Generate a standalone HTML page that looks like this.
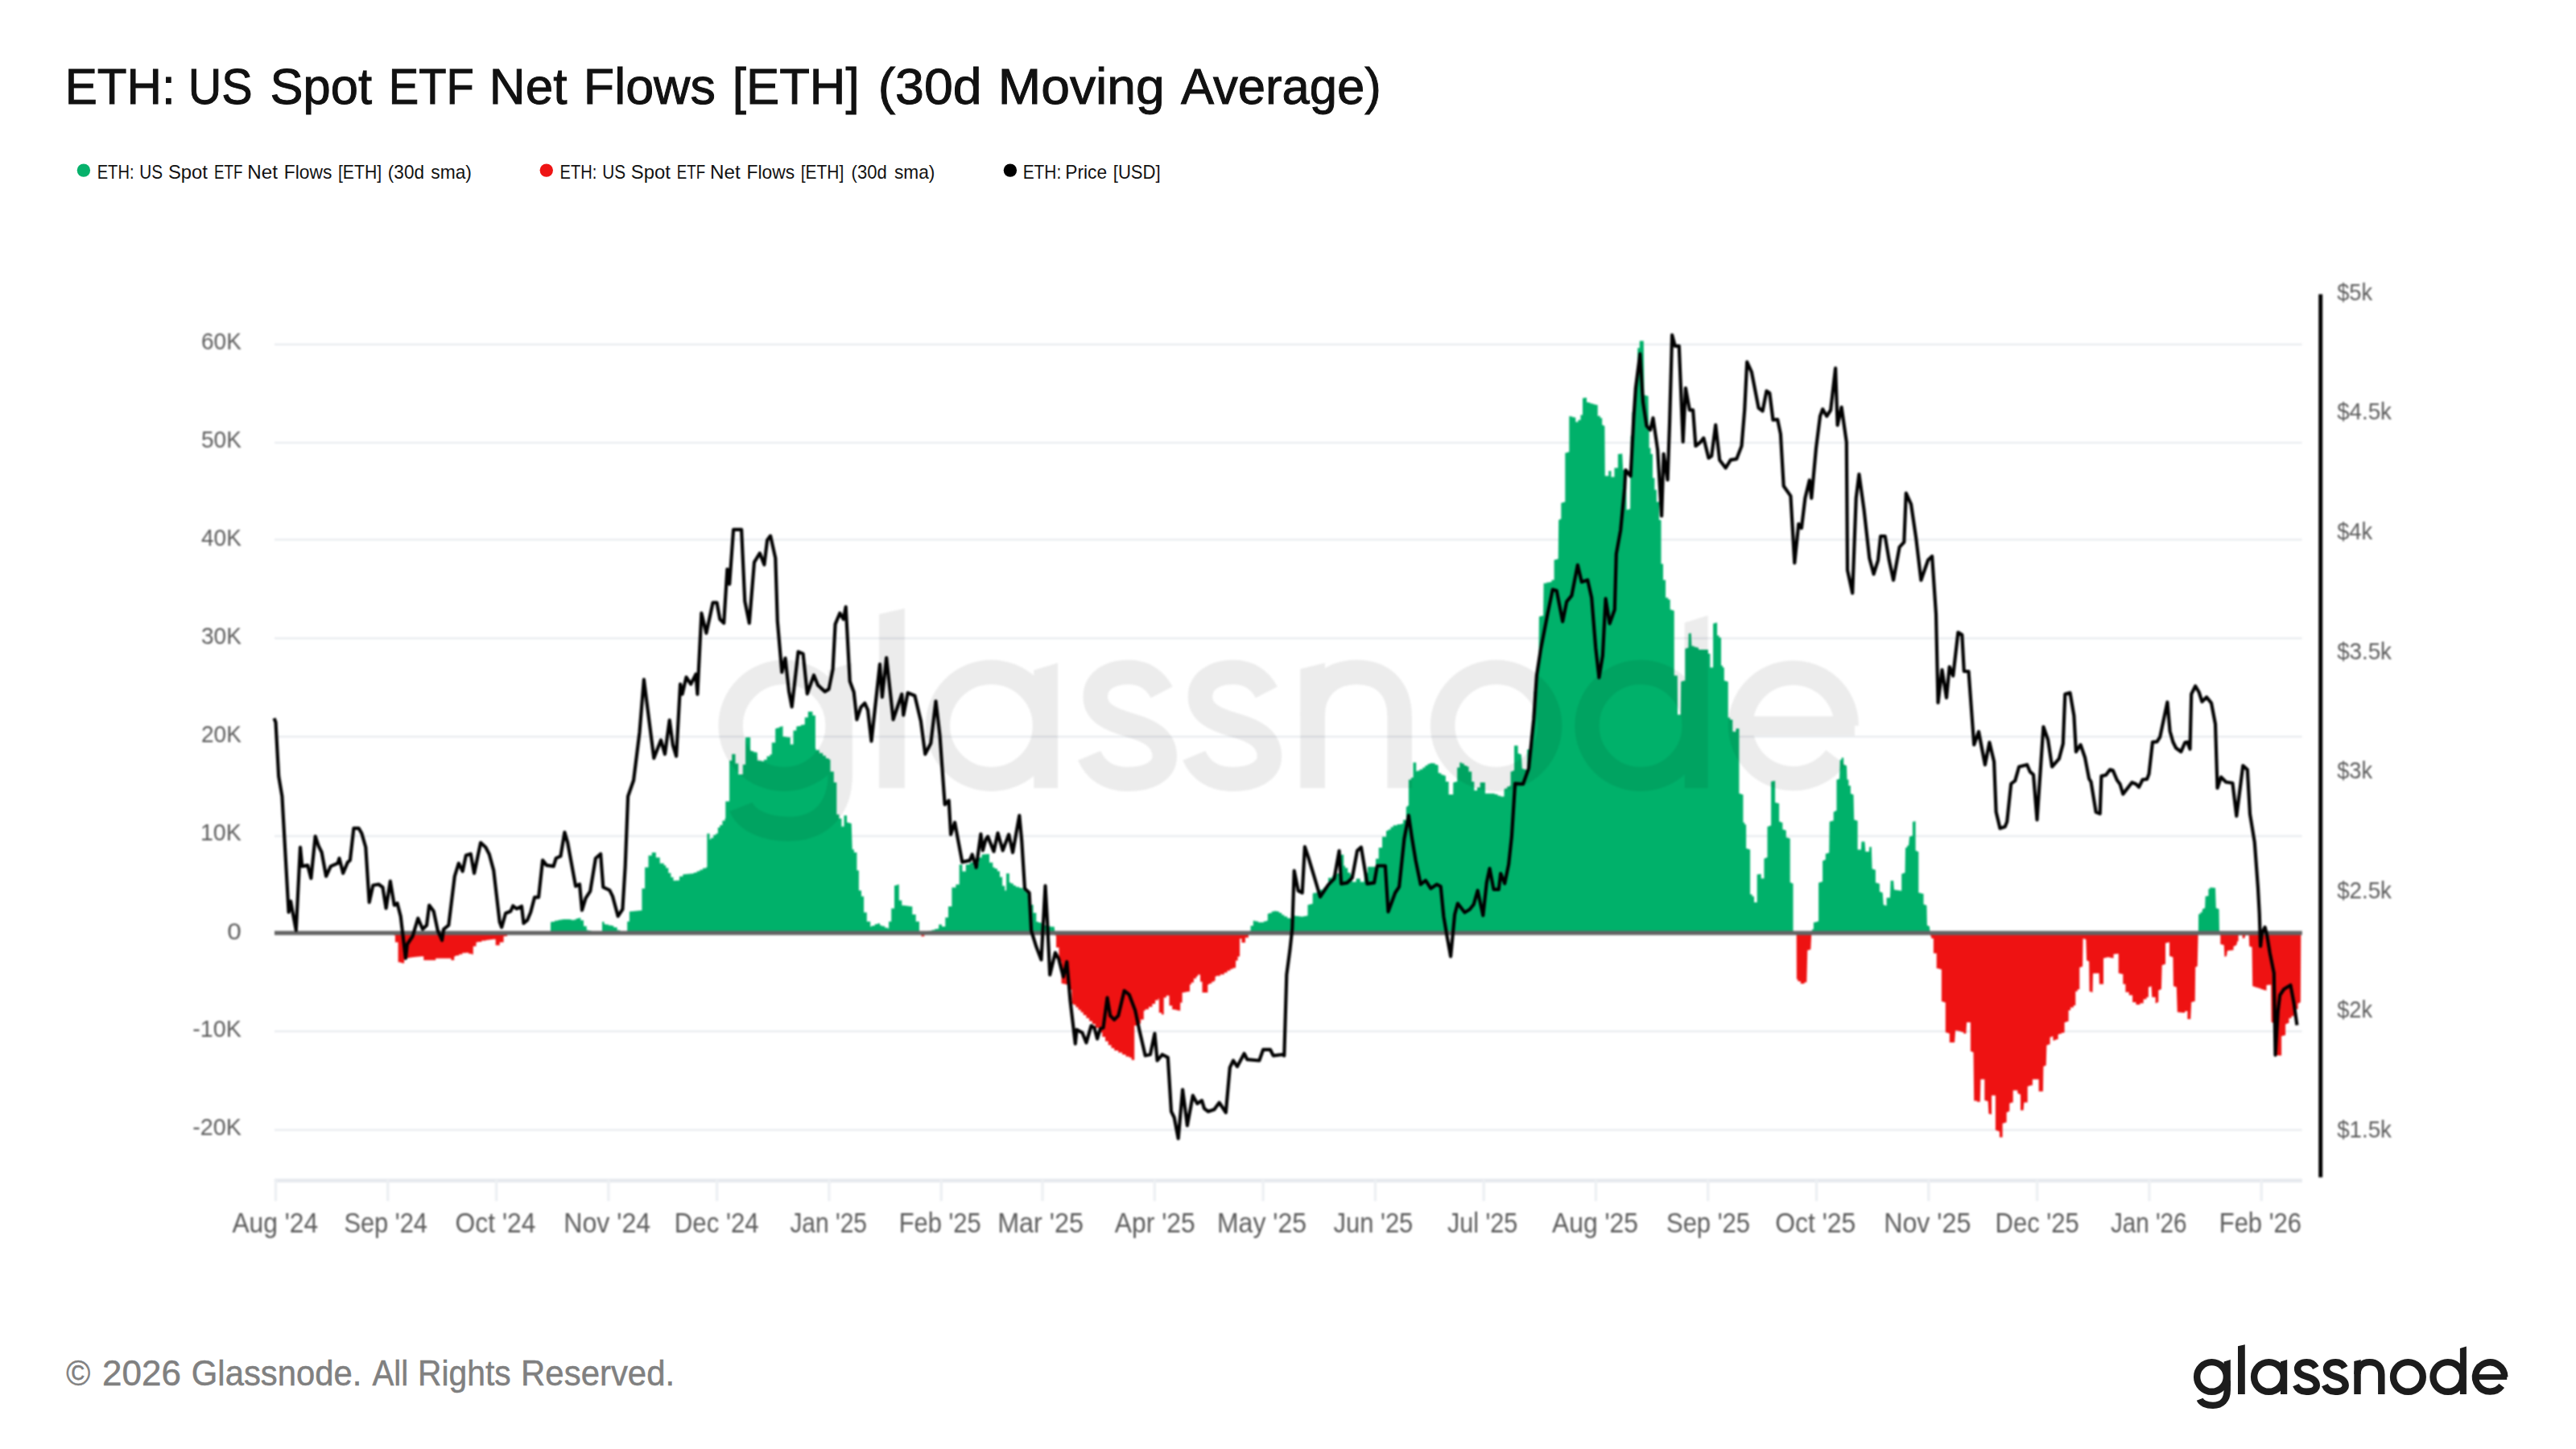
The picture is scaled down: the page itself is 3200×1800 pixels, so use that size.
<!DOCTYPE html><html><head><meta charset="utf-8"><title>ETH: US Spot ETF Net Flows</title>
<style>html,body{margin:0;padding:0;background:#fff}body{width:3200px;height:1800px;overflow:hidden;font-family:"Liberation Sans",sans-serif}svg{display:block}text{font-family:"Liberation Sans",sans-serif}</style></head><body>
<svg width="3200" height="1800" viewBox="0 0 3200 1800">
<rect width="3200" height="1800" fill="#fff"/>
<defs><filter id="b" color-interpolation-filters="sRGB" filterUnits="userSpaceOnUse" x="0" y="300" width="3200" height="1300"><feGaussianBlur stdDeviation="1.0"/></filter></defs>
<text x="80.76" y="129.2" font-size="63.5" fill="#111" stroke="#111" stroke-width="1" textLength="136.96" lengthAdjust="spacingAndGlyphs">ETH:</text>
<text x="233.76" y="129.2" font-size="63.5" fill="#111" stroke="#111" stroke-width="1" textLength="79.93" lengthAdjust="spacingAndGlyphs">US</text>
<text x="335.57" y="129.2" font-size="63.5" fill="#111" stroke="#111" stroke-width="1" textLength="126.42" lengthAdjust="spacingAndGlyphs">Spot</text>
<text x="482.75" y="129.2" font-size="63.5" fill="#111" stroke="#111" stroke-width="1" textLength="106.17" lengthAdjust="spacingAndGlyphs">ETF</text>
<text x="607.83" y="129.2" font-size="63.5" fill="#111" stroke="#111" stroke-width="1" textLength="96.55" lengthAdjust="spacingAndGlyphs">Net</text>
<text x="724.86" y="129.2" font-size="63.5" fill="#111" stroke="#111" stroke-width="1" textLength="163.99" lengthAdjust="spacingAndGlyphs">Flows</text>
<text x="909.84" y="129.2" font-size="63.5" fill="#111" stroke="#111" stroke-width="1" textLength="157.71" lengthAdjust="spacingAndGlyphs">[ETH]</text>
<text x="1090.63" y="129.2" font-size="63.5" fill="#111" stroke="#111" stroke-width="1" textLength="128.94" lengthAdjust="spacingAndGlyphs">(30d</text>
<text x="1239.85" y="129.2" font-size="63.5" fill="#111" stroke="#111" stroke-width="1" textLength="206.88" lengthAdjust="spacingAndGlyphs">Moving</text>
<text x="1467.01" y="129.2" font-size="63.5" fill="#111" stroke="#111" stroke-width="1" textLength="248.82" lengthAdjust="spacingAndGlyphs">Average)</text>
<text x="120.74" y="221.9" font-size="23.6" fill="#111" textLength="45.73" lengthAdjust="spacingAndGlyphs">ETH:</text>
<text x="173.36" y="221.9" font-size="23.6" fill="#111" textLength="28.88" lengthAdjust="spacingAndGlyphs">US</text>
<text x="208.98" y="221.9" font-size="23.6" fill="#111" textLength="49.02" lengthAdjust="spacingAndGlyphs">Spot</text>
<text x="266.05" y="221.9" font-size="23.6" fill="#111" textLength="35.34" lengthAdjust="spacingAndGlyphs">ETF</text>
<text x="307.33" y="221.9" font-size="23.6" fill="#111" textLength="37.65" lengthAdjust="spacingAndGlyphs">Net</text>
<text x="352.76" y="221.9" font-size="23.6" fill="#111" textLength="59.66" lengthAdjust="spacingAndGlyphs">Flows</text>
<text x="419.95" y="221.9" font-size="23.6" fill="#111" textLength="54.19" lengthAdjust="spacingAndGlyphs">[ETH]</text>
<text x="481.87" y="221.9" font-size="23.6" fill="#111" textLength="45.10" lengthAdjust="spacingAndGlyphs">(30d</text>
<text x="535.30" y="221.9" font-size="23.6" fill="#111" textLength="50.64" lengthAdjust="spacingAndGlyphs">sma)</text>
<text x="695.53" y="221.9" font-size="23.6" fill="#111" textLength="45.73" lengthAdjust="spacingAndGlyphs">ETH:</text>
<text x="748.15" y="221.9" font-size="23.6" fill="#111" textLength="28.88" lengthAdjust="spacingAndGlyphs">US</text>
<text x="783.78" y="221.9" font-size="23.6" fill="#111" textLength="49.02" lengthAdjust="spacingAndGlyphs">Spot</text>
<text x="840.75" y="221.9" font-size="23.6" fill="#111" textLength="35.34" lengthAdjust="spacingAndGlyphs">ETF</text>
<text x="882.13" y="221.9" font-size="23.6" fill="#111" textLength="37.65" lengthAdjust="spacingAndGlyphs">Net</text>
<text x="927.56" y="221.9" font-size="23.6" fill="#111" textLength="59.66" lengthAdjust="spacingAndGlyphs">Flows</text>
<text x="994.76" y="221.9" font-size="23.6" fill="#111" textLength="53.46" lengthAdjust="spacingAndGlyphs">[ETH]</text>
<text x="1057.58" y="221.9" font-size="23.6" fill="#111" textLength="44.07" lengthAdjust="spacingAndGlyphs">(30d</text>
<text x="1111.00" y="221.9" font-size="23.6" fill="#111" textLength="50.43" lengthAdjust="spacingAndGlyphs">sma)</text>
<text x="1270.70" y="221.9" font-size="23.6" fill="#111" textLength="47.57" lengthAdjust="spacingAndGlyphs">ETH:</text>
<text x="1323.31" y="221.9" font-size="23.6" fill="#111" textLength="51.71" lengthAdjust="spacingAndGlyphs">Price</text>
<text x="1382.76" y="221.9" font-size="23.6" fill="#111" textLength="58.87" lengthAdjust="spacingAndGlyphs">[USD]</text>
<text x="82.20" y="1720.7" font-size="43.5" fill="#808080" stroke="#808080" stroke-width="0.5" textLength="30.00" lengthAdjust="spacingAndGlyphs">©</text>
<text x="127.14" y="1720.7" font-size="43.5" fill="#808080" stroke="#808080" stroke-width="0.5" textLength="97.89" lengthAdjust="spacingAndGlyphs">2026</text>
<text x="237.86" y="1720.7" font-size="43.5" fill="#808080" stroke="#808080" stroke-width="0.5" textLength="211.41" lengthAdjust="spacingAndGlyphs">Glassnode.</text>
<text x="462.42" y="1720.7" font-size="43.5" fill="#808080" stroke="#808080" stroke-width="0.5" textLength="44.85" lengthAdjust="spacingAndGlyphs">All</text>
<text x="519.10" y="1720.7" font-size="43.5" fill="#808080" stroke="#808080" stroke-width="0.5" textLength="115.63" lengthAdjust="spacingAndGlyphs">Rights</text>
<text x="647.12" y="1720.7" font-size="43.5" fill="#808080" stroke="#808080" stroke-width="0.5" textLength="190.99" lengthAdjust="spacingAndGlyphs">Reserved.</text>
<circle cx="103.9" cy="211.6" r="8.2" fill="#06b16b"/><circle cx="678.8" cy="211.6" r="8.2" fill="#ee1414"/><circle cx="1254.9" cy="211.6" r="8.2" fill="#000"/>
<g filter="url(#b)">
<text x="288.39" y="1530.5" font-size="35" fill="#5c5c5c" textLength="106.71" lengthAdjust="spacingAndGlyphs">Aug '24</text>
<text x="427.39" y="1530.5" font-size="35" fill="#5c5c5c" textLength="103.64" lengthAdjust="spacingAndGlyphs">Sep '24</text>
<text x="565.59" y="1530.5" font-size="35" fill="#5c5c5c" textLength="99.81" lengthAdjust="spacingAndGlyphs">Oct '24</text>
<text x="700.17" y="1530.5" font-size="35" fill="#5c5c5c" textLength="108.04" lengthAdjust="spacingAndGlyphs">Nov '24</text>
<text x="837.77" y="1530.5" font-size="35" fill="#5c5c5c" textLength="104.84" lengthAdjust="spacingAndGlyphs">Dec '24</text>
<text x="981.40" y="1530.5" font-size="35" fill="#5c5c5c" textLength="95.62" lengthAdjust="spacingAndGlyphs">Jan '25</text>
<text x="1116.65" y="1530.5" font-size="35" fill="#5c5c5c" textLength="102.07" lengthAdjust="spacingAndGlyphs">Feb '25</text>
<text x="1239.17" y="1530.5" font-size="35" fill="#5c5c5c" textLength="106.86" lengthAdjust="spacingAndGlyphs">Mar '25</text>
<text x="1384.80" y="1530.5" font-size="35" fill="#5c5c5c" textLength="99.80" lengthAdjust="spacingAndGlyphs">Apr '25</text>
<text x="1511.96" y="1530.5" font-size="35" fill="#5c5c5c" textLength="111.06" lengthAdjust="spacingAndGlyphs">May '25</text>
<text x="1656.60" y="1530.5" font-size="35" fill="#5c5c5c" textLength="98.70" lengthAdjust="spacingAndGlyphs">Jun '25</text>
<text x="1798.00" y="1530.5" font-size="35" fill="#5c5c5c" textLength="87.30" lengthAdjust="spacingAndGlyphs">Jul '25</text>
<text x="1928.00" y="1530.5" font-size="35" fill="#5c5c5c" textLength="107.01" lengthAdjust="spacingAndGlyphs">Aug '25</text>
<text x="2069.99" y="1530.5" font-size="35" fill="#5c5c5c" textLength="104.02" lengthAdjust="spacingAndGlyphs">Sep '25</text>
<text x="2205.19" y="1530.5" font-size="35" fill="#5c5c5c" textLength="100.13" lengthAdjust="spacingAndGlyphs">Oct '25</text>
<text x="2340.16" y="1530.5" font-size="35" fill="#5c5c5c" textLength="108.16" lengthAdjust="spacingAndGlyphs">Nov '25</text>
<text x="2478.58" y="1530.5" font-size="35" fill="#5c5c5c" textLength="104.02" lengthAdjust="spacingAndGlyphs">Dec '25</text>
<text x="2621.90" y="1530.5" font-size="35" fill="#5c5c5c" textLength="94.60" lengthAdjust="spacingAndGlyphs">Jan '26</text>
<text x="2756.77" y="1530.5" font-size="35" fill="#5c5c5c" textLength="102.24" lengthAdjust="spacingAndGlyphs">Feb '26</text>
<text x="249.99" y="434.4" font-size="30" fill="#5c5c5c" textLength="49.84" lengthAdjust="spacingAndGlyphs">60K</text>
<text x="249.99" y="556.31" font-size="30" fill="#5c5c5c" textLength="49.84" lengthAdjust="spacingAndGlyphs">50K</text>
<text x="249.99" y="678.22" font-size="30" fill="#5c5c5c" textLength="49.84" lengthAdjust="spacingAndGlyphs">40K</text>
<text x="249.99" y="800.1299999999999" font-size="30" fill="#5c5c5c" textLength="49.84" lengthAdjust="spacingAndGlyphs">30K</text>
<text x="249.99" y="922.04" font-size="30" fill="#5c5c5c" textLength="49.84" lengthAdjust="spacingAndGlyphs">20K</text>
<text x="248.92" y="1043.9499999999998" font-size="30" fill="#5c5c5c" textLength="50.93" lengthAdjust="spacingAndGlyphs">10K</text>
<text x="282.26" y="1167.2" font-size="30" fill="#5c5c5c" textLength="17.53" lengthAdjust="spacingAndGlyphs">0</text>
<text x="239.19" y="1287.77" font-size="30" fill="#5c5c5c" textLength="60.63" lengthAdjust="spacingAndGlyphs">-10K</text>
<text x="239.19" y="1409.6799999999998" font-size="30" fill="#5c5c5c" textLength="60.63" lengthAdjust="spacingAndGlyphs">-20K</text>
<text x="2903.20" y="372.8" font-size="30" fill="#5c5c5c" textLength="43.80" lengthAdjust="spacingAndGlyphs">$5k</text>
<text x="2903.20" y="521.4" font-size="30" fill="#5c5c5c" textLength="67.70" lengthAdjust="spacingAndGlyphs">$4.5k</text>
<text x="2903.20" y="670.0" font-size="30" fill="#5c5c5c" textLength="43.80" lengthAdjust="spacingAndGlyphs">$4k</text>
<text x="2903.20" y="818.5999999999999" font-size="30" fill="#5c5c5c" textLength="67.70" lengthAdjust="spacingAndGlyphs">$3.5k</text>
<text x="2903.20" y="967.2" font-size="30" fill="#5c5c5c" textLength="43.80" lengthAdjust="spacingAndGlyphs">$3k</text>
<text x="2903.20" y="1115.8" font-size="30" fill="#5c5c5c" textLength="67.70" lengthAdjust="spacingAndGlyphs">$2.5k</text>
<text x="2903.20" y="1264.3999999999999" font-size="30" fill="#5c5c5c" textLength="43.80" lengthAdjust="spacingAndGlyphs">$2k</text>
<text x="2903.20" y="1413.0" font-size="30" fill="#5c5c5c" textLength="67.70" lengthAdjust="spacingAndGlyphs">$1.5k</text>
<g stroke="#e8ebef" stroke-width="2.2">
<line x1="341" y1="427.9" x2="2859.5" y2="427.9"/>
<line x1="341" y1="550.0" x2="2859.5" y2="550.0"/>
<line x1="341" y1="670.4" x2="2859.5" y2="670.4"/>
<line x1="341" y1="792.8" x2="2859.5" y2="792.8"/>
<line x1="341" y1="915.2" x2="2859.5" y2="915.2"/>
<line x1="341" y1="1038.6" x2="2859.5" y2="1038.6"/>
<line x1="341" y1="1281.2" x2="2859.5" y2="1281.2"/>
<line x1="341" y1="1403.7" x2="2859.5" y2="1403.7"/>
</g>
<rect x="340.8" y="1464.3" width="2519" height="4.6" fill="#e6e9ee"/>
<g fill="#edf0f3">
<rect x="340.8" y="1466" width="3.4" height="26"/>
<rect x="480.1" y="1466" width="3.4" height="26"/>
<rect x="614.9" y="1466" width="3.4" height="26"/>
<rect x="754.2" y="1466" width="3.4" height="26"/>
<rect x="888.9" y="1466" width="3.4" height="26"/>
<rect x="1028.2" y="1466" width="3.4" height="26"/>
<rect x="1167.5" y="1466" width="3.4" height="26"/>
<rect x="1293.3" y="1466" width="3.4" height="26"/>
<rect x="1432.6" y="1466" width="3.4" height="26"/>
<rect x="1567.4" y="1466" width="3.4" height="26"/>
<rect x="1706.7" y="1466" width="3.4" height="26"/>
<rect x="1841.5" y="1466" width="3.4" height="26"/>
<rect x="1980.7" y="1466" width="3.4" height="26"/>
<rect x="2120.0" y="1466" width="3.4" height="26"/>
<rect x="2254.8" y="1466" width="3.4" height="26"/>
<rect x="2394.1" y="1466" width="3.4" height="26"/>
<rect x="2528.9" y="1466" width="3.4" height="26"/>
<rect x="2668.2" y="1466" width="3.4" height="26"/>
<rect x="2807.5" y="1466" width="3.4" height="26"/>
</g>
<clipPath id="cg"><rect x="330" y="380" width="2540" height="779"/></clipPath><clipPath id="cr"><rect x="330" y="1159" width="2540" height="300"/></clipPath>
<defs><path id="bp" d="M479.1 1159L479.1 1158.1V1159.0H484.1V1160.9H489.0V1161.8H490.9V1170.5H492.8H494.6V1195.3H496.5L500.2 1196.6H502.1V1190.4H503.9L513.9 1189.1L523.8 1187.9H526.3V1192.8H528.8L538.7 1192.8H541.2V1190.4H543.7L558.6 1190.4H560.4V1192.8H562.3H564.2V1187.9H566.0V1187.0H570.2V1185.4H574.3V1183.7H578.5V1182.9V1183.5H582.2V1184.8H585.9V1185.4H587.8V1175.4H589.6H591.5V1170.5H593.4V1169.9H598.3V1168.6H603.3V1168.0L613.2 1166.8H615.7V1174.2H618.2H620.7V1170.5H623.2H625.6V1163.0H628.1H630.0V1159.3H631.9L638.1 1158.1H639.9V1161.0H641.8L653.0 1161.0H653.6V1158.1H654.2L682.8 1158.1H684.0V1145.6H685.3V1145.0H689.0V1143.8H692.7V1143.2L700.2 1141.9L707.6 1141.9L712.6 1143.2V1142.4H715.7V1140.9H718.8V1140.2H721.3V1143.2H723.8H725.0V1150.6H726.2H728.7V1155.6H731.2V1156.1H734.3V1157.1H737.4V1157.6L747.4 1157.6H748.0V1145.1H748.6H750.5V1148.1H752.3V1148.6H756.0V1149.6H759.8V1150.1H762.3V1151.9H764.7H766.6V1155.6H768.5H770.3V1159.3H772.2L778.4 1158.1H779.2V1144.7H780.0H781.9V1132.2H783.7L796.1 1131.0H797.4V1103.7H798.6H801.1V1077.6H803.6H805.5V1062.7H807.3H809.8V1059.0H812.3H814.8V1065.2H817.3H819.7V1072.6H822.2H824.7V1075.1H827.2V1078.2H830.3V1084.4H833.4V1087.5V1089.7H836.5V1094.1H839.6V1096.2V1093.7H844.0V1088.8H848.3V1086.3L862.0 1085.0V1084.1H865.7V1082.3H869.4V1081.3V1080.4H873.1V1078.5H876.9V1077.6H878.4V1035.4H879.9H881.5V1042.8H883.1V1041.0H886.2V1037.2H889.3V1035.4H891.8V1027.9H894.3V1025.1H897.4V1019.5H900.5V1016.7H901.3V995.6H902.2L905.4 995.6H906.1V944.7H906.7H909.2V936.8H911.6H913.5V948.4H915.4H917.2V962.1H919.1L922.1 962.1H922.8V949.7H923.6H926.1V916.1H928.5L931.5 916.1H932.1V932.3H932.8V932.9H935.9V934.2H939.0V934.8H940.8V944.7H942.7L948.9 946.0V943.8H952.6V939.4H956.4V937.3H958.8V922.4H961.3H963.2V905.0H965.0V904.2H968.2V902.7H971.3V902.0H972.5V914.9H973.7L980.0 916.1H981.8V924.8H983.7H985.5V907.5H987.4H989.3V902.5H991.1V901.9H994.9V900.6H998.6V900.0H999.8V891.3H1001.1H1003.8V884.1H1006.5H1009.4V888.8H1012.2H1012.9V929.8H1013.5V931.7H1017.8V935.4H1022.2V937.3V938.8H1025.9V941.9H1029.6V943.5H1031.5V958.4H1033.4H1035.8V972.0H1038.3H1039.3V1011.8H1040.3H1042.4V1016.7H1044.5H1045.4V1026.7H1046.3H1048.5V1013.0H1050.7H1052.0V1021.7H1053.2L1057.7 1023.0L1058.7 1055.2H1060.9V1059.0H1063.2H1064.4V1081.3H1065.6H1066.9V1106.2H1068.1H1070.0V1113.6H1071.9H1073.1V1133.5H1074.3H1076.8V1144.7H1079.3H1081.2V1150.9H1083.0V1149.9H1086.8V1148.1H1090.5V1147.1H1093.0V1149.6H1095.4V1150.6H1099.2V1152.4H1102.9V1153.4H1104.1V1144.7H1105.4H1107.2V1128.5H1109.1H1111.0V1100.0H1112.8L1115.8 1098.7H1116.8V1118.6H1117.8H1120.3V1124.8H1122.8L1131.5 1126.0H1133.3V1136.0H1135.2H1137.7V1144.7H1140.2H1142.0V1159.1H1143.9H1144.5V1163.3H1145.1L1147.6 1163.3H1148.2V1159.1H1148.9V1158.3H1153.2V1156.6H1157.5V1155.8V1155.2H1161.3V1154.0H1165.0V1153.4H1166.2V1148.4H1167.5H1170.0V1150.9H1172.4H1174.3V1139.7H1176.2H1178.0V1126.0H1179.9H1182.4V1102.4H1184.9H1187.4V1098.7H1189.8H1191.7V1073.9H1193.6H1195.4V1082.6H1197.3H1199.8V1073.9H1202.3H1204.7V1071.4H1207.2H1209.7V1076.4H1212.2V1072.6H1215.9V1065.2H1219.6V1061.5L1227.1 1061.0H1229.0V1071.4H1230.8H1233.3V1077.6H1235.8V1079.1H1238.9V1082.3H1242.0V1083.8V1089.4H1245.1V1100.6H1248.2V1106.2H1250.1V1085.0H1251.9H1253.8V1096.2H1255.7V1097.5H1258.8V1100.0H1261.9V1101.2V1101.8H1266.2V1103.1H1270.6V1103.7V1105.2H1273.7V1108.3H1276.8V1109.9L1277.4 1120.2H1279.9V1123.9H1282.4H1283.6V1133.9H1284.8H1287.3V1145.0H1289.8V1146.0H1293.5V1147.8H1297.3V1148.8V1149.4H1301.0V1150.6H1304.7V1151.3L1309.7 1151.3L1310.4 1158.7L1310.7 1162.2H1312.0V1177.1H1313.4H1315.5V1194.5H1317.6H1318.6V1221.8H1319.6L1325.1 1223.1H1327.3V1229.3H1329.5H1331.4V1246.7H1333.3V1248.2H1336.4V1251.3H1339.5V1252.9V1254.4H1342.6V1257.5H1345.7V1259.1V1261.0H1349.4V1264.7H1353.1V1266.5V1268.4H1356.9V1272.1H1360.6V1274.0V1276.8H1364.9V1282.4H1369.3V1285.2V1288.0H1373.0V1293.6H1376.7V1296.4V1298.2H1380.5V1301.9H1384.2V1303.8V1305.0H1389.2V1307.5H1394.1V1308.8V1310.0H1398.5V1312.5H1402.8V1313.7H1405.7V1316.7H1408.5H1409.2V1274.0H1409.8H1412.5V1271.5H1415.2H1417.1V1266.5H1419.0H1420.8V1255.4H1422.7V1253.8H1427.0V1250.7H1431.4V1249.2V1247.0H1435.1V1242.6H1438.8V1240.5H1439.8V1257.9H1440.8H1442.9V1260.3H1445.0H1445.7V1239.2H1446.3H1448.8V1236.7H1451.3H1452.5V1249.2H1453.7H1456.2V1254.1H1458.7L1464.9 1255.4H1466.2V1245.4H1467.4H1468.6V1233.0H1469.9L1476.1 1231.8H1478.0V1223.1H1479.8V1220.6H1482.9V1215.6H1486.0V1213.1H1487.9V1210.7H1489.8H1491.0V1219.4H1492.2H1493.5V1233.0H1494.7L1498.5 1233.0H1500.3V1223.1H1502.2V1221.8H1505.3V1219.4H1508.4V1218.1H1509.6V1213.1H1510.9V1212.2H1515.8V1210.4H1520.8V1209.4V1208.2H1524.5V1205.7H1528.3V1204.5V1203.8H1531.4V1202.6H1534.5V1202.0H1535.1V1193.3H1535.7H1537.6V1188.3H1539.4H1540.1V1166.0H1540.7H1542.5V1170.9H1544.4H1546.9V1164.7H1549.4H1550.9V1159.7H1552.3L1552.8 1156.2H1553.6V1150.0H1554.3H1556.8V1143.8H1559.3V1144.4H1563.0V1145.7H1566.8V1146.3V1145.7H1569.9V1144.4H1573.0V1143.8H1574.8V1135.1H1576.7V1134.2H1579.8V1132.3H1582.9V1131.4L1589.1 1132.6V1133.9H1592.2V1136.4H1595.3V1137.6V1138.5H1599.0V1140.4H1602.8V1141.3H1605.3V1137.6H1607.7L1617.7 1138.8L1623.9 1137.6H1624.5V1123.9H1625.1L1630.1 1122.7H1630.7V1110.3H1631.3V1109.3H1635.7V1107.5H1640.0V1106.5V1105.3H1643.8V1102.8H1647.5V1101.6H1650.0V1090.4H1652.4H1654.9V1087.9H1657.4V1087.0H1660.5V1085.1H1663.6V1084.2H1665.5V1061.8H1667.4H1669.2V1075.5H1671.1V1078.3H1674.2V1083.9H1677.3V1086.7H1679.8V1095.4H1682.3H1684.7V1091.6H1687.2H1689.7V1095.4H1692.2H1694.7V1084.2H1697.2H1699.0V1076.7H1700.9L1707.1 1076.7H1709.0V1066.8H1710.8H1712.7V1053.1H1714.5H1717.0V1039.5H1719.5H1722.0V1032.0H1724.5V1030.5H1727.6V1027.4H1730.7V1025.8V1025.2H1735.7V1024.0H1740.6V1023.3H1743.1V1018.4H1745.6H1746.8V1002.2H1748.1L1748.7 1000.7H1749.9V968.4H1751.2H1753.0V965.9H1754.9H1755.5V947.3H1756.1L1758.6 947.3H1759.2V958.5H1759.9V957.5H1763.6V955.7H1767.3V954.7V953.5H1770.4V951.0H1773.5V949.8V949.1H1776.6V947.9H1779.7V947.3V948.2H1782.8V950.1H1786.0V951.0H1786.6V959.7H1787.2V960.6H1790.3V962.5H1793.4V963.4H1795.9V970.9H1798.4H1799.6V987.0H1800.9L1804.6 987.0H1805.2V972.1H1805.8L1809.5 970.9H1810.2V953.5H1810.8H1813.3V947.3H1815.8V948.5H1818.9V951.0H1822.0V952.2H1824.5V958.5H1826.9H1828.2V970.9H1829.4H1831.3V982.0H1833.1H1835.0V978.3H1836.9H1838.7V972.1H1840.6L1844.3 972.1H1844.9V985.8H1845.6L1856.7 985.8V986.7H1860.5V988.6H1864.2V989.5L1867.9 989.5H1868.5V980.8H1869.2V979.6H1872.3V977.1H1875.4V975.8H1876.6V958.5H1877.9L1880.3 957.2H1881.0V926.2H1881.6L1884.6 926.2H1885.6V936.1H1886.5L1889.8 937.3L1890.8 954.7L1895.2 956.0H1897.1V931.1H1899.0H1900.8V926.2H1902.7H1903.3V893.9H1903.9H1905.4V859.1H1906.9H1909.2V826.8H1911.4L1911.9 766.0L1917.1 764.7L1917.6 725.0V724.5H1921.3V723.4H1925.0V722.9H1927.5V720.4H1930.0H1930.6V695.6H1931.3L1935.7 694.3L1936.2 645.9L1938.7 644.7H1939.3V624.8H1940.0L1943.7 623.5H1944.3V562.7H1944.9L1948.6 561.5H1949.3V516.7H1949.9V517.2H1953.0V518.2H1956.1V518.7H1957.3V524.2H1958.6H1960.4V521.7H1962.3H1963.5V515.5H1964.8H1966.0V494.4H1967.3L1969.8 493.9H1971.0V499.4H1972.2V500.0H1975.3V501.2H1978.5V501.8L1983.4 503.1H1984.7V516.7H1985.9H1987.8V519.2H1989.6H1990.2V527.9H1990.9L1993.4 529.2L1993.8 591.3L1997.1 591.3H1998.3V585.0H1999.6H2001.4V592.5H2003.3H2005.5V581.3H2007.8H2009.9V563.9H2012.0L2015.2 563.4L2016.2 583.8L2019.9 585.0L2020.7 633.5L2025.1 632.2L2025.6 541.6H2027.5V511.8H2029.4H2031.2V474.5H2033.1H2034.3V432.3H2035.6H2036.8V423.6H2038.1L2041.8 423.6L2042.5 490.7L2047.5 491.9L2048.0 529.2H2048.6V556.5H2049.2H2050.5V563.9H2051.7H2053.0V593.7H2054.2H2055.4V608.6H2056.7H2057.9V623.5H2059.2H2061.0V645.9H2062.9H2063.5V700.5H2064.1H2066.0V720.4H2067.9H2069.1V742.4H2070.4H2072.2V744.8H2074.1H2074.7V757.3H2075.3L2079.0 758.5H2079.7V839.2H2080.3L2083.8 839.2L2084.0 887.7L2087.7 887.7L2088.2 846.7L2092.7 845.4H2093.3V805.7H2093.9L2097.4 804.5L2097.7 787.1L2100.7 786.6L2101.4 802.0V802.6H2104.5V803.8H2107.6V804.5H2110.1V806.9H2112.6L2120.0 806.9H2121.9V811.9H2123.8H2124.4V829.3H2125.0L2127.5 829.3H2128.1V774.6H2128.7L2132.4 773.4H2133.1V789.5H2133.7H2135.6V792.0H2137.4H2138.0V826.8H2138.7H2139.9V829.3H2141.1H2141.8V845.4H2142.4L2146.1 846.7H2146.7V891.4H2147.4H2149.2V893.9H2151.1H2152.3V908.8H2153.6L2156.0 909.3L2156.8 905.0L2159.8 905.0H2160.4V985.7H2161.0L2164.7 986.9H2165.4V1021.7H2166.0H2167.2V1024.2H2168.5H2169.1V1054.0H2169.7L2173.4 1055.2H2174.1V1111.1H2174.7H2176.5V1113.6H2178.4H2179.0V1121.1H2179.6L2182.1 1121.1H2182.7V1086.3H2183.4L2187.1 1085.8H2187.7V1091.3H2188.3L2190.8 1091.3H2191.4V1066.4H2192.1L2194.5 1065.2H2195.5V1026.7H2196.5L2199.5 1025.4H2200.1V970.8H2200.8L2204.5 970.0H2205.1V996.9H2205.7L2209.4 998.1H2210.1V1020.5H2210.7L2213.2 1021.7H2214.4V1030.4H2215.7L2218.1 1031.6H2218.8V1040.3H2219.4L2223.1 1041.6H2223.7V1096.2H2224.4L2226.8 1097.5H2227.5V1158.3H2228.1L2231.7 1159.0L2231.9 1216.6H2233.4V1219.1H2234.9H2236.8V1222.1H2238.6H2241.5V1220.3H2244.3L2245.3 1180.6L2249.3 1179.4L2250.3 1159.0L2250.8 1159.0L2251.0 1154.5H2252.9V1145.8H2254.8L2258.5 1144.6H2259.1V1096.6H2259.7L2263.5 1095.3H2264.1V1069.2H2264.7L2267.2 1068.0H2267.8V1060.5H2268.4L2272.2 1059.3L2272.7 1020.8L2277.1 1019.6H2277.7V1008.4H2278.4L2280.9 1007.1H2281.5V968.6H2282.1L2285.1 967.4L2285.8 943.8H2287.7V941.3H2289.5H2290.2V950.0H2290.8L2294.0 951.3L2294.5 968.6H2296.4V976.1H2298.2H2298.9V986.0H2299.5L2302.5 987.3L2303.2 1018.3L2306.9 1019.6H2307.6V1055.6H2308.2L2311.9 1055.6L2312.4 1045.6L2316.4 1045.6L2317.4 1058.1L2321.8 1058.1L2322.3 1051.9L2324.8 1051.9L2325.6 1079.2L2329.3 1080.4H2329.9V1096.6H2330.5L2334.3 1097.8H2334.9V1107.7H2335.5L2338.7 1109.0L2339.7 1123.9L2343.0 1125.1H2343.6V1115.2H2344.2L2347.9 1115.2L2348.7 1094.1L2352.1 1094.1L2352.9 1105.3L2361.6 1106.5H2362.2V1085.4H2362.8L2366.5 1084.1L2367.0 1053.1H2369.0V1050.6H2371.0L2372.0 1039.4L2375.2 1038.2H2375.9V1020.8H2376.5L2379.0 1020.3H2379.6V1056.8H2380.2L2382.7 1058.1H2383.3V1109.0H2383.9L2388.9 1110.2H2389.5V1123.5H2390.1L2393.4 1124.7L2393.9 1149.5L2396.9 1150.8L2397.6 1159.0L2398.3 1163.2H2399.2V1165.7H2400.1H2401.9V1184.3H2403.8H2405.7V1203.0H2407.5L2411.3 1204.2H2411.9V1243.9H2412.5L2416.2 1245.2H2416.8V1282.4H2417.5L2421.2 1283.7H2421.8V1294.9H2422.4L2428.1 1294.9L2429.1 1280.0L2436.1 1281.2V1282.1H2439.2V1284.0H2442.3V1284.9L2443.1 1270.0L2447.3 1270.0H2447.9V1306.0H2448.5L2451.5 1307.3L2452.2 1366.9V1367.5H2456.0V1368.7H2459.7V1369.4L2460.4 1340.8L2464.7 1340.8H2465.3V1366.9H2465.9L2469.6 1368.1L2470.4 1383.5L2473.4 1384.3H2474.0V1360.7H2474.6L2478.3 1360.7H2478.9V1404.1H2479.6L2483.3 1405.4H2483.9V1412.8H2484.5L2487.0 1412.8H2487.6V1395.4H2488.3L2492.0 1394.2H2492.6V1381.8H2493.2L2495.7 1380.5H2496.3V1370.6H2496.9L2499.4 1369.4H2500.7V1354.5H2501.9L2505.6 1354.5H2506.3V1358.2H2506.9L2509.4 1359.4H2510.0V1379.3H2510.6L2513.6 1379.3L2514.3 1369.4L2518.1 1369.4H2518.7V1349.5H2519.3L2523.0 1348.3H2524.9V1340.8H2526.8L2531.7 1340.8H2532.6V1355.7H2533.5L2537.9 1355.7L2538.4 1324.7L2541.7 1323.4L2542.4 1298.6L2545.9 1297.3H2546.6V1288.6H2547.4L2549.1 1287.4H2550.4V1292.4H2551.6L2555.3 1291.1H2556.6V1284.9H2557.8V1284.3H2560.9V1283.1H2564.0V1282.4H2564.6V1270.0H2565.3L2569.0 1268.8H2569.6V1255.1H2570.2H2572.1V1251.4H2573.9H2575.8V1248.9H2577.7H2578.3V1231.5H2578.9H2580.8V1229.0H2582.6H2583.3V1201.7H2583.9L2587.1 1200.5L2587.6 1165.7L2591.3 1166.9L2592.1 1193.0L2595.1 1194.3L2595.6 1231.5L2599.5 1232.8L2600.0 1209.2L2607.5 1208.9L2607.9 1222.6L2612.4 1222.6H2613.0V1190.3H2613.7L2618.6 1189.0L2624.8 1190.3H2625.5V1185.3H2626.1L2631.0 1184.8H2631.7V1208.9H2632.3L2636.0 1210.1H2637.3V1222.6H2638.5H2640.4V1232.5H2642.2H2644.7V1236.2H2647.2H2649.1V1244.9H2650.9H2653.4V1248.1H2655.9H2658.4V1246.2H2660.9H2662.7V1241.2H2664.6H2666.4V1238.7H2668.3H2668.9V1226.3H2669.5L2672.5 1225.0L2673.3 1238.7L2677.0 1238.7H2677.6V1246.2H2678.2L2680.7 1244.9H2681.3V1230.0H2682.0L2684.9 1228.8L2685.7 1199.0L2689.4 1197.7H2690.0V1171.6H2690.7L2694.4 1170.4H2695.0V1187.8H2695.6L2699.4 1189.0L2699.9 1225.0L2703.8 1226.3L2704.8 1257.3L2711.8 1258.1H2714.3V1256.1H2716.7H2717.4V1266.0H2718.0L2721.2 1266.0L2722.2 1244.9L2726.7 1243.7L2727.2 1201.5L2729.7 1200.2L2730.7 1158.2L2730.9 1158.2L2731.1 1135.4H2733.3V1133.4H2735.4L2736.1 1129.2L2739.1 1127.9L2739.6 1113.5L2742.8 1113.0H2743.4V1104.3H2744.1H2745.3V1102.6H2746.5L2752.0 1103.1L2752.8 1127.9L2756.5 1129.2L2757.0 1158.2L2757.7 1161.7H2758.3V1172.9H2759.0L2762.7 1174.1L2763.4 1188.5L2765.9 1187.8L2766.9 1181.1L2773.9 1180.3H2774.5V1175.4H2775.1L2778.3 1174.1L2779.3 1169.2H2780.6V1161.7H2781.8L2785.0 1161.7H2785.7V1165.4H2786.3L2788.3 1165.4L2789.3 1161.7L2793.7 1161.7L2794.2 1175.4L2797.5 1176.6L2798.2 1225.0L2802.4 1226.3V1226.8H2805.5V1227.8H2808.6V1228.3V1228.9H2811.7V1230.1H2814.9V1230.8H2815.5V1223.8H2816.1L2821.1 1223.3L2821.6 1269.8L2824.8 1271.0L2825.5 1310.7L2833.5 1311.2H2834.1V1287.1H2834.7L2838.5 1285.9H2839.1V1272.2H2839.7L2842.2 1271.0H2843.4V1264.8H2844.7H2846.5V1262.3H2848.4H2849.6V1256.1H2850.9H2852.1V1253.6H2853.4H2854.6V1246.2H2855.8L2857.8 1244.9L2858.3 1158.2L2858.3 1159Z"/></defs>
<use href="#bp" fill="#00b16a" clip-path="url(#cg)"/>
<use href="#bp" fill="#ee1212" clip-path="url(#cr)"/>
<g opacity="0.076" transform="matrix(3.6266,0,0,3.62,856.3,718.8)"><g fill="#000" stroke="none"><path d="M65 12.2L73.8 10.2V71.9H65Z"/><path d="M118 31.4L126.2 28.9V71.9H118Z"/><path d="M209.3 31L217.7 28.9V71.9H209.3Z"/><path d="M340.9 15.1L348.9 12.6V71.9H340.9Z"/><path d="M47.6 31.4L55.8 28.9V62H47.6Z"/><rect x="364" y="47.2" width="35.2" height="6.7"/></g><g fill="none" stroke="#000" stroke-width="8.4" stroke-linecap="butt"><circle cx="32.5" cy="50.45" r="18.35"/><circle cx="103.45" cy="50.45" r="18.35"/><circle cx="276.4" cy="50.45" r="18.35"/><circle cx="325.85" cy="50.45" r="18.35"/><path d="M17.7 78.3C19.5 83 26 85.9 34 85.9C45 85.9 51.7 79 51.7 67V55"/><path d="M161.8 39C159.5 34.5 155.5 32.1 150.5 32.1C143.5 32.1 139.1 35.5 139.1 40.5C139.1 46 144 48.3 151 50.3C158 52.3 162.8 55 162.8 61C162.8 66 157.5 68.8 150 68.8C143.5 68.8 139 65.5 137 60.7"/><path d="M161.8 39C159.5 34.5 155.5 32.1 150.5 32.1C143.5 32.1 139.1 35.5 139.1 40.5C139.1 46 144 48.3 151 50.3C158 52.3 162.8 55 162.8 61C162.8 66 157.5 68.8 150 68.8C143.5 68.8 139 65.5 137 60.7" transform="translate(35.9,0)"/><path d="M213.5 47C213.5 38 219.5 32.1 228.5 32.1C238 32.1 243.3 38 243.3 47.5V71.9"/><path d="M396.35 50.45A18.15 18.15 0 1 0 392.70 61.37"/></g></g>
<rect x="341" y="1156.4" width="2518.8" height="5.2" fill="#636363"/>
<path d="M340.5 892.3L342.5 897.3L346.2 964.3L350.4 989.2L358.6 1133.2L361.1 1119.6L363.6 1133.2L367.8 1155.6L373.0 1052.5L375.3 1076.1L382.2 1074.9L386.4 1091.0L391.7 1038.8L395.9 1051.3L399.6 1058.7L405.1 1088.5L410.8 1076.1L419.5 1072.4L421.5 1066.2L426.2 1084.8L431.9 1071.1L434.9 1068.6L439.4 1028.9L445.6 1028.9L449.3 1035.1L454.3 1052.5L458.7 1120.8L463.4 1099.7L470.4 1098.5L475.4 1102.2L479.6 1128.3L484.8 1094.7L489.8 1124.5L493.5 1122.0L497.7 1138.2L503.9 1190.4L505.9 1173.0L512.6 1163.0L519.3 1140.7L525.0 1154.3L530.0 1149.4L533.2 1124.5L538.7 1132.0L543.7 1155.6L549.1 1168.0L551.1 1154.3L557.3 1149.4L564.8 1088.5L569.8 1072.4L574.7 1082.3L578.9 1062.4L584.7 1060.7L589.1 1084.8L597.1 1046.8L603.3 1052.5L607.8 1061.2L613.2 1081.1L620.7 1145.6L623.2 1151.9L628.1 1134.5L634.3 1132.0L637.3 1125.3L641.8 1128.8L648.0 1125.8L650.5 1146.9L655.0 1143.2L659.2 1133.2L664.1 1114.6L669.1 1114.6L674.1 1068.6L679.0 1074.9L687.7 1076.1L690.7 1066.2L696.4 1063.7L701.4 1033.9L705.1 1046.3L715.1 1100.9L720.0 1098.5L723.0 1130.7L727.5 1115.8L733.2 1107.1L739.9 1066.2L746.1 1060.7L749.3 1102.2L757.3 1105.9L761.0 1113.4L767.7 1138.2L773.4 1129.5L776.7 1076.1L780.1 989.2L787.1 969.3L794.5 909.7L799.9 844.2L812.3 941.8L821.0 919.4L826.0 936.8L831.7 894.6L835.9 925.6L840.1 939.3L845.1 849.9L847.6 862.3L852.5 841.2L858.2 849.9L864.5 837.5L866.4 862.3L871.4 761.7L877.4 786.5L885.6 748.5L890.5 748.5L894.3 769.2L899.2 774.1L903.4 707.1L906.2 725.7L911.1 657.9L921.1 657.9L925.3 746.8L930.8 774.1L937.0 698.4L943.9 687.2L949.4 701.6L953.1 671.0L957.1 665.6L963.3 693.4L965.8 771.6L971.3 835.0L975.5 817.6L980.0 858.6L983.7 878.0L991.6 809.6L997.6 812.1L1002.8 861.8L1011.0 838.7L1016.0 851.1L1024.7 859.1L1029.6 856.1L1034.6 831.3L1037.6 775.4L1043.3 761.7L1047.8 769.2L1050.7 753.8L1055.7 846.2L1060.7 859.8L1064.4 893.8L1069.4 878.5L1074.3 873.5L1078.1 882.2L1082.5 920.7L1093.0 825.0L1095.9 866.0L1101.2 817.1L1109.6 893.8L1120.3 862.3L1122.3 888.4L1127.7 860.6L1136.4 864.3L1143.9 895.8L1149.3 936.8L1156.3 923.2L1162.5 871.0L1167.5 913.2L1173.7 999.4L1178.7 994.4L1181.1 1036.6L1186.1 1021.7L1189.8 1041.6L1195.3 1070.9L1204.7 1068.9L1207.7 1061.5L1212.7 1077.6L1218.4 1036.1L1220.9 1056.5L1224.6 1042.8L1227.1 1039.1L1234.5 1057.7L1239.5 1034.9L1245.7 1056.5L1253.2 1036.6L1258.1 1059.0L1266.3 1013.0L1269.3 1045.3L1273.0 1103.7L1276.8 1107.4L1278.6 1109.0L1281.1 1156.2L1287.3 1176.1L1293.5 1192.2L1298.5 1100.3L1301.0 1143.8L1304.2 1210.9L1310.9 1183.5L1315.1 1191.0L1320.9 1213.4L1325.3 1194.7L1329.5 1243.2L1335.8 1296.6L1337.5 1279.2L1344.5 1282.9L1349.4 1295.3L1355.6 1274.2L1359.4 1276.7L1363.1 1290.4L1366.8 1277.9L1370.5 1276.7L1375.5 1239.4L1379.2 1261.8L1384.2 1266.8L1389.2 1261.8L1396.6 1230.7L1402.8 1235.7L1410.3 1255.6L1415.2 1279.0L1422.7 1311.3L1428.9 1310.0L1434.4 1283.9L1437.6 1317.5L1443.8 1310.0L1450.8 1313.7L1455.0 1380.8L1458.7 1388.3L1463.7 1414.3L1469.1 1353.5L1474.9 1398.2L1481.8 1360.9L1487.3 1370.9L1493.0 1367.1L1496.0 1377.1L1500.9 1380.8L1508.4 1378.3L1514.6 1369.6L1522.8 1382.0L1527.8 1326.2L1532.0 1317.5L1536.9 1324.9L1545.6 1308.8L1549.4 1316.2L1564.3 1317.5L1569.2 1303.8L1577.9 1303.8L1581.7 1311.3L1592.8 1310.0L1595.3 1311.3L1598.3 1210.7L1602.3 1180.9L1605.3 1153.5L1607.7 1081.7L1612.7 1106.5L1617.7 1109.0L1620.9 1051.9L1625.1 1064.3L1632.6 1089.2L1640.0 1114.0L1650.0 1099.1L1657.4 1091.6L1663.6 1056.9L1666.1 1097.9L1673.6 1096.6L1679.8 1090.4L1686.0 1056.9L1690.9 1052.4L1698.4 1097.9L1707.1 1096.6L1710.8 1075.5L1720.8 1075.5L1724.5 1132.6L1733.2 1109.0L1738.1 1101.6L1744.4 1042.0L1749.9 1013.0L1753.7 1039.1L1758.6 1068.9L1764.8 1098.7L1771.0 1093.7L1777.3 1103.7L1784.7 1098.7L1789.7 1101.2L1793.4 1138.5L1797.6 1163.3L1802.1 1188.1L1807.1 1136.0L1810.8 1122.3L1819.5 1133.5L1825.7 1129.8L1830.7 1123.5L1835.6 1106.2L1842.3 1137.2L1846.8 1096.2L1850.5 1078.8L1855.5 1104.9L1861.7 1104.9L1864.2 1085.0L1869.2 1097.5L1874.1 1073.9L1877.9 1039.1L1882.1 973.3L1892.0 974.0L1899.0 954.6L1905.2 893.9L1908.9 839.2L1913.9 806.9L1922.6 762.2L1928.8 732.4L1933.7 733.7L1941.2 772.2L1946.2 747.3L1952.4 739.9L1959.8 701.8L1964.8 722.9L1972.2 720.4L1977.2 742.8L1982.2 804.5L1986.4 841.7L1990.9 814.4L1994.6 743.6L1999.6 774.6L2005.8 757.3L2007.8 688.1L2013.2 658.3L2018.2 606.2L2019.4 583.8L2025.6 591.3L2029.4 519.2L2031.9 482.0L2037.3 439.7L2041.0 499.4L2045.5 529.2L2050.0 534.1L2053.5 519.2L2059.2 559.0L2064.1 640.9L2066.6 563.9L2071.6 596.2L2074.1 524.2L2077.1 416.1L2080.8 429.8L2085.8 429.8L2090.7 549.0L2093.9 482.0L2098.9 509.3L2103.1 509.3L2106.4 554.0L2112.6 549.0L2116.3 544.1L2122.5 568.9L2126.2 566.4L2131.2 527.9L2136.2 571.4L2143.6 581.3L2149.8 571.4L2157.3 570.1L2163.5 554.0L2167.2 509.3L2170.2 449.7L2175.9 462.1L2184.6 506.8L2189.6 510.5L2194.5 485.7L2198.3 488.2L2202.5 521.7L2208.2 521.2L2211.9 539.1L2215.7 603.7L2224.4 616.1L2229.3 699.3L2234.3 650.9L2234.4 651.1L2237.9 656.1L2242.4 618.8L2247.8 596.5L2250.3 618.8L2256.0 556.7L2261.0 517.0L2264.2 508.3L2269.2 517.0L2274.1 509.5L2280.1 457.4L2282.6 528.2L2287.6 505.8L2293.8 549.3L2295.0 708.3L2301.2 736.8L2305.7 618.8L2309.4 589.0L2315.6 633.7L2322.3 693.4L2327.6 713.2L2333.0 695.8L2336.2 666.0L2341.7 666.0L2346.7 695.8L2352.1 720.7L2359.6 679.7L2365.3 673.5L2367.8 612.6L2374.0 626.3L2380.2 668.5L2386.4 720.7L2395.1 695.8L2400.1 690.9L2405.0 762.9L2407.5 873.0L2412.5 832.0L2418.0 866.8L2421.7 828.3L2426.2 839.5L2432.4 785.6L2437.3 788.6L2439.8 834.0L2445.5 834.0L2452.2 925.2L2458.0 909.0L2465.9 950.0L2471.4 922.2L2477.1 946.3L2479.6 1008.4L2484.5 1029.0L2490.7 1027.0L2493.2 1020.8L2498.2 973.6L2503.2 969.9L2508.1 952.5L2518.1 950.0L2521.8 958.7L2526.0 962.4L2530.5 1018.3L2538.4 902.8L2544.1 919.0L2549.1 952.5L2557.8 942.6L2562.8 923.9L2565.3 862.3L2571.5 860.6L2576.4 889.2L2578.9 933.9L2584.6 925.2L2590.1 941.3L2595.1 967.4L2597.5 971.1L2603.7 1008.8L2608.7 1010.8L2610.4 964.1L2616.1 962.8L2621.1 956.1L2624.8 957.1L2629.8 969.0L2633.5 974.0L2637.3 986.4L2648.4 972.0L2653.4 974.0L2657.1 977.7L2661.6 968.5L2667.1 967.8L2669.5 961.6L2674.0 921.8L2679.5 921.3L2683.2 915.6L2692.4 872.2L2695.6 908.2L2699.4 921.8L2703.1 929.3L2709.3 933.8L2714.3 922.3L2717.2 921.8L2720.5 930.5L2722.2 862.2L2727.2 852.3L2731.6 859.7L2735.4 871.7L2741.1 866.0L2747.0 873.4L2752.0 899.5L2754.5 979.0L2759.0 965.3L2765.2 971.5L2773.4 972.8L2778.3 1013.7L2786.3 951.1L2791.8 956.1L2795.0 1011.3L2800.7 1046.0L2801.2 1052.4L2804.9 1102.1L2806.7 1134.4L2808.1 1175.4L2809.9 1159.2L2813.6 1151.8L2816.1 1161.7L2819.8 1184.1L2824.8 1208.9L2826.5 1310.7L2829.8 1256.1L2832.2 1236.2L2837.2 1228.8L2845.4 1223.8L2849.6 1246.2L2853.4 1273.5" fill="none" stroke="#000" stroke-width="4.2" stroke-linejoin="round" stroke-linecap="butt"/>
<rect x="2880.2" y="365.5" width="5" height="1097" fill="#000"/>
</g>
<g transform="translate(2715,1660)"><g fill="#1c1c1c" stroke="none"><path d="M65 12.2L73.8 10.2V71.9H65Z"/><path d="M118 31.4L126.2 28.9V71.9H118Z"/><path d="M209.3 31L217.7 28.9V71.9H209.3Z"/><path d="M340.9 15.1L348.9 12.6V71.9H340.9Z"/><path d="M47.6 31.4L55.8 28.9V62H47.6Z"/><rect x="364" y="47.2" width="35.2" height="6.7"/></g><g fill="none" stroke="#1c1c1c" stroke-width="8.4" stroke-linecap="butt"><circle cx="32.5" cy="50.45" r="18.35"/><circle cx="103.45" cy="50.45" r="18.35"/><circle cx="276.4" cy="50.45" r="18.35"/><circle cx="325.85" cy="50.45" r="18.35"/><path d="M17.7 78.3C19.5 83 26 85.9 34 85.9C45 85.9 51.7 79 51.7 67V55"/><path d="M161.8 39C159.5 34.5 155.5 32.1 150.5 32.1C143.5 32.1 139.1 35.5 139.1 40.5C139.1 46 144 48.3 151 50.3C158 52.3 162.8 55 162.8 61C162.8 66 157.5 68.8 150 68.8C143.5 68.8 139 65.5 137 60.7"/><path d="M161.8 39C159.5 34.5 155.5 32.1 150.5 32.1C143.5 32.1 139.1 35.5 139.1 40.5C139.1 46 144 48.3 151 50.3C158 52.3 162.8 55 162.8 61C162.8 66 157.5 68.8 150 68.8C143.5 68.8 139 65.5 137 60.7" transform="translate(35.9,0)"/><path d="M213.5 47C213.5 38 219.5 32.1 228.5 32.1C238 32.1 243.3 38 243.3 47.5V71.9"/><path d="M396.35 50.45A18.15 18.15 0 1 0 392.70 61.37"/></g></g>
</svg></body></html>
